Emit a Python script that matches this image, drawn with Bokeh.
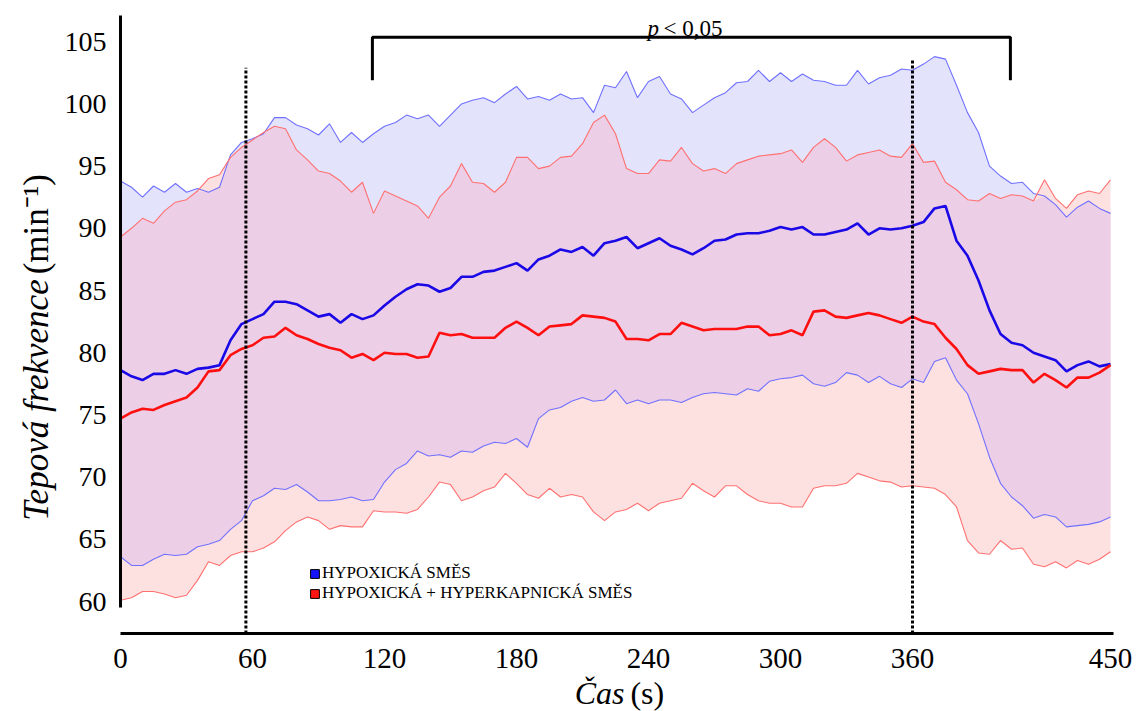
import numpy as np
from bokeh.plotting import figure
from bokeh.models import Range1d, FixedTicker, Label, Legend, LegendItem
from bokeh.embed import file_html
from bokeh.resources import INLINE

# ---------------- data ----------------
time_s = list(range(0, 451, 5))

hyp_upper = [93.8, 93.3, 92.5, 93.4, 92.9, 93.6, 92.9, 93.2, 92.9, 93.3,
             95.9, 96.9, 97.2, 97.6, 98.9, 98.9, 98.3, 98.0, 97.5, 98.4,
             96.9, 97.7, 96.9, 97.6, 98.2, 98.5, 99.1, 98.8, 99.1, 98.2,
             99.1, 100.0, 100.3, 100.5, 100.1, 100.8, 101.4, 100.4, 100.6, 100.3,
             100.8, 100.4, 100.5, 99.3, 101.5, 101.3, 102.6, 100.5, 101.8, 102.2,
             100.8, 100.4, 99.3, 99.9, 100.5, 100.9, 101.7, 101.8, 102.7, 101.8,
             102.5, 101.8, 102.4, 101.9, 101.8, 101.5, 101.5, 102.7, 101.6, 102.1,
             102.3, 102.8, 102.7, 103.2, 103.8, 103.6, 101.5, 99.3, 97.7, 95.0,
             94.2, 93.6, 93.7, 92.8, 92.6, 91.9, 90.9, 91.7, 92.2, 91.6, 91.2]

hyp_mean = [78.6, 78.1, 77.8, 78.3, 78.3, 78.6, 78.3, 78.7, 78.8, 79.0,
            81.0, 82.3, 82.7, 83.1, 84.1, 84.1, 83.9, 83.4, 82.9, 83.1,
            82.4, 83.1, 82.7, 83.0, 83.8, 84.5, 85.1, 85.5, 85.4, 84.9,
            85.2, 86.1, 86.1, 86.5, 86.6, 86.9, 87.2, 86.6, 87.5, 87.8,
            88.3, 88.1, 88.5, 87.8, 88.8, 89.0, 89.3, 88.4, 88.8, 89.2,
            88.6, 88.3, 87.9, 88.4, 89.0, 89.1, 89.5, 89.6, 89.6, 89.8,
            90.1, 89.9, 90.1, 89.5, 89.5, 89.7, 89.9, 90.4, 89.5, 90.0,
            89.9, 90.0, 90.2, 90.5, 91.6, 91.8, 89.0, 87.8, 85.8, 83.4,
            81.5, 80.8, 80.6, 80.0, 79.7, 79.4, 78.5, 79.0, 79.3, 78.9, 79.1]

hyp_lower = [63.6, 62.9, 62.9, 63.4, 63.8, 63.7, 63.8, 64.4, 64.6, 64.9,
             65.8, 66.5, 68.1, 68.5, 69.1, 69.0, 69.4, 68.8, 68.1, 68.1,
             68.2, 68.4, 68.1, 68.2, 69.6, 70.6, 71.1, 72.1, 71.7, 71.8,
             71.6, 72.1, 72.0, 72.5, 72.8, 72.7, 73.1, 72.4, 74.7, 75.4,
             75.6, 76.1, 76.4, 76.1, 76.2, 77.0, 75.9, 76.2, 75.9, 76.2,
             76.2, 76.0, 76.4, 76.7, 76.8, 76.7, 76.6, 77.1, 76.9, 77.7,
             77.9, 78.0, 78.2, 77.5, 77.3, 77.6, 78.4, 78.2, 77.6, 78.1,
             77.5, 77.2, 77.9, 77.6, 79.3, 79.6, 77.8, 76.7, 74.3, 71.6,
             69.5, 68.4, 67.7, 66.7, 67.0, 66.8, 66.0, 66.1, 66.2, 66.4, 66.8]

hh_upper = [89.3, 90.0, 90.8, 90.4, 91.4, 92.1, 92.3, 93.0, 94.0, 94.3,
            95.7, 96.5, 97.1, 97.7, 98.2, 98.0, 96.3, 95.5, 94.6, 94.4,
            93.8, 92.9, 93.7, 91.2, 93.0, 92.6, 92.2, 91.8, 90.8, 92.5,
            93.4, 95.2, 93.7, 93.6, 92.9, 93.7, 95.7, 95.7, 94.8, 95.0,
            95.7, 95.8, 96.8, 98.5, 99.1, 97.6, 94.8, 94.4, 94.4, 95.5,
            95.4, 96.5, 95.2, 94.6, 94.8, 94.4, 95.2, 95.5, 95.8, 95.9,
            96.0, 96.3, 95.3, 96.5, 97.2, 96.5, 95.4, 95.9, 96.1, 96.3,
            95.8, 95.7, 96.8, 95.3, 95.4, 93.7, 93.1, 92.3, 92.2, 92.8,
            92.4, 92.7, 92.6, 92.2, 93.9, 92.4, 91.6, 92.7, 93.0, 92.8, 93.9]

hh_mean = [74.7, 75.2, 75.5, 75.4, 75.8, 76.1, 76.4, 77.2, 78.5, 78.6,
           79.8, 80.3, 80.6, 81.2, 81.3, 82.0, 81.4, 81.1, 80.7, 80.4,
           80.2, 79.6, 79.9, 79.4, 80.0, 79.9, 79.9, 79.6, 79.7, 81.6,
           81.4, 81.5, 81.2, 81.2, 81.2, 82.0, 82.5, 82.0, 81.4, 82.1,
           82.2, 82.3, 83.0, 82.9, 82.8, 82.5, 81.1, 81.1, 81.0, 81.5,
           81.5, 82.4, 82.1, 81.8, 81.9, 81.9, 81.9, 82.1, 82.1, 81.4,
           81.5, 81.8, 81.4, 83.3, 83.4, 82.9, 82.8, 83.0, 83.2, 83.0,
           82.7, 82.4, 82.9, 82.5, 82.3, 81.2, 80.3, 79.0, 78.3, 78.5,
           78.7, 78.6, 78.6, 77.6, 78.3, 77.8, 77.2, 78.0, 78.0, 78.4, 79.0]

hh_lower = [60.1, 60.3, 60.8, 60.8, 60.6, 60.3, 60.5, 61.7, 63.2, 62.9,
            63.7, 64.0, 64.0, 64.3, 64.8, 65.7, 66.4, 66.8, 66.5, 65.8,
            66.1, 66.0, 66.0, 67.3, 67.2, 67.2, 67.1, 67.4, 68.4, 69.6,
            69.4, 68.1, 68.4, 68.9, 69.2, 70.3, 69.5, 68.6, 68.3, 69.1,
            68.4, 68.6, 68.4, 67.2, 66.5, 67.2, 67.4, 67.9, 67.3, 67.9,
            68.1, 68.3, 69.5, 68.9, 68.4, 69.3, 69.3, 68.6, 68.1, 67.9,
            67.9, 67.6, 67.6, 69.1, 69.3, 69.3, 69.5, 70.3, 70.0, 69.7,
            69.6, 69.2, 69.3, 69.2, 69.1, 68.6, 67.6, 64.9, 63.9, 63.8,
            64.9, 64.2, 64.3, 63.0, 62.8, 63.2, 62.7, 63.3, 63.0, 63.4, 64.0]

x_ticks = [0, 60, 120, 180, 240, 300, 360, 450]
y_ticks = [60, 65, 70, 75, 80, 85, 90, 95, 100, 105]
legend_labels = ["HYPOXICKÁ SMĚS", "HYPOXICKÁ + HYPERKAPNICKÁ SMĚS"]
marker_times = [57, 360]          # dotted vertical markers (s)
marker_tops = [102.9, 103.5]
sig_interval = [114.5, 404.5]     # p < 0.05 bracket (s)
sig_levels = [101.9, 105.35]

# ---------------- figure ----------------
# The frame fills the whole canvas; the axes are pinned with fixed_location,
# so that all side texts live inside the (unclipped) frame.
X_AXIS_Y = 57.43      # level of the time axis line
Y_TOP = 107.1         # top of the value axis line
W, H = 1138, 711
p = figure(width=W, height=H, output_backend="svg", toolbar_location=None,
           x_range=Range1d(-54.545, 462.727), y_range=Range1d(51.158, 108.312),
           min_border_left=0, min_border_right=0, min_border_top=0,
           min_border_bottom=0, background_fill_color="white",
           border_fill_color="white", outline_line_color=None)
p.grid.visible = False

FONT = "Liberation Serif"
for ax in (p.xaxis[0], p.yaxis[0]):
    ax.axis_line_color = "black"
    ax.axis_line_width = 3
    ax.major_tick_line_color = None
    ax.minor_tick_line_color = None
    ax.major_tick_out = 0
    ax.major_tick_in = 0
    ax.minor_tick_out = 0
    ax.minor_tick_in = 0
    ax.major_label_text_font = FONT
    ax.major_label_text_color = "black"

p.xaxis.ticker = FixedTicker(ticks=x_ticks)
p.xaxis.fixed_location = X_AXIS_Y
p.xaxis.bounds = (0, 451.4)
p.xaxis.major_label_text_font_size = "29px"
p.xaxis.major_label_standoff = 16
p.yaxis.ticker = FixedTicker(ticks=y_ticks)
p.yaxis.fixed_location = 0
p.yaxis.bounds = (59.5, Y_TOP)
p.yaxis.major_label_text_font_size = "28px"
p.yaxis.major_label_standoff = 14

# ---------------- bands ----------------
hu, hl = np.array(hyp_upper), np.array(hyp_lower)
ru, rl = np.array(hh_upper), np.array(hh_lower)
ov_lo = np.maximum(hl, rl)
ov_hi = np.maximum(np.minimum(hu, ru), ov_lo)

p.varea(x=time_s, y1=hyp_lower, y2=hyp_upper, fill_color="#e3e3fc")
p.varea(x=time_s, y1=hh_lower, y2=hh_upper, fill_color="#fde1e1")
p.varea(x=time_s, y1=ov_lo, y2=ov_hi, fill_color="#ecceE6")

p.line(time_s, hyp_upper, line_color="#7070ff", line_width=1.1)
p.line(time_s, hyp_lower, line_color="#7070ff", line_width=1.1)
p.line(time_s, hh_upper, line_color="#ff7070", line_width=1.1)
p.line(time_s, hh_lower, line_color="#ff7070", line_width=1.1)

p.line(time_s, hyp_mean, line_color="#1a08e6", line_width=2.6)
p.line(time_s, hh_mean, line_color="#ff1010", line_width=2.6)

# dotted markers
p.segment(x0=marker_times, x1=marker_times, y0=[X_AXIS_Y] * 2, y1=marker_tops,
          line_color="black", line_width=3, line_dash="3 2")

# significance bracket
p.line(x=[sig_interval[0], sig_interval[0], sig_interval[1], sig_interval[1]],
       y=[sig_levels[0], sig_levels[1], sig_levels[1], sig_levels[0]],
       line_color="black", line_width=3)
p.add_layout(Label(x=239.5, y=106.06, text="p", text_font=FONT, text_font_style="italic",
                   text_font_size="23px", text_align="left", text_baseline="alphabetic",
                   text_color="black"))
p.add_layout(Label(x=246.8, y=106.06, text="< 0,05", text_font=FONT,
                   text_font_size="23px", text_align="left", text_baseline="alphabetic",
                   text_color="black"))

# axis titles
p.add_layout(Label(x=-38.2, y=85.9, text="Tepová frekvence", angle=np.pi / 2,
                   text_font=FONT, text_font_style="italic", text_font_size="35px",
                   text_align="right", text_baseline="alphabetic", text_color="black"))
p.add_layout(Label(x=-38.2, y=86.3, text="(min⁻¹)", angle=np.pi / 2,
                   text_font=FONT, text_font_size="35px",
                   text_align="left", text_baseline="alphabetic", text_color="black"))
p.add_layout(Label(x=229.1, y=52.68, text="Čas", text_font=FONT, text_font_style="italic",
                   text_font_size="32px", text_align="right", text_baseline="alphabetic",
                   text_color="black"))
p.add_layout(Label(x=231.8, y=52.68, text="(s)", text_font=FONT,
                   text_font_size="32px", text_align="left", text_baseline="alphabetic",
                   text_color="black"))

# legend (swatch renderers hold a single non-finite item so nothing is drawn)
rb = p.quad(left=[np.nan], right=[np.nan], top=[np.nan], bottom=[np.nan],
            fill_color="#1414ff", line_color="black", line_width=1)
rr = p.quad(left=[np.nan], right=[np.nan], top=[np.nan], bottom=[np.nan],
            fill_color="#ff1414", line_color="black", line_width=1)
legend = Legend(items=[LegendItem(label=legend_labels[0], renderers=[rb]),
                       LegendItem(label=legend_labels[1], renderers=[rr])],
                location=(309, 108), orientation="vertical",
                background_fill_alpha=0, border_line_color=None,
                padding=0, spacing=0, margin=0,
                label_text_font=FONT, label_text_font_size="17px",
                label_text_color="black",
                glyph_width=11, glyph_height=11, label_standoff=2, label_height=19)
p.add_layout(legend)

open("out.html", "w").write(file_html(p, INLINE))
